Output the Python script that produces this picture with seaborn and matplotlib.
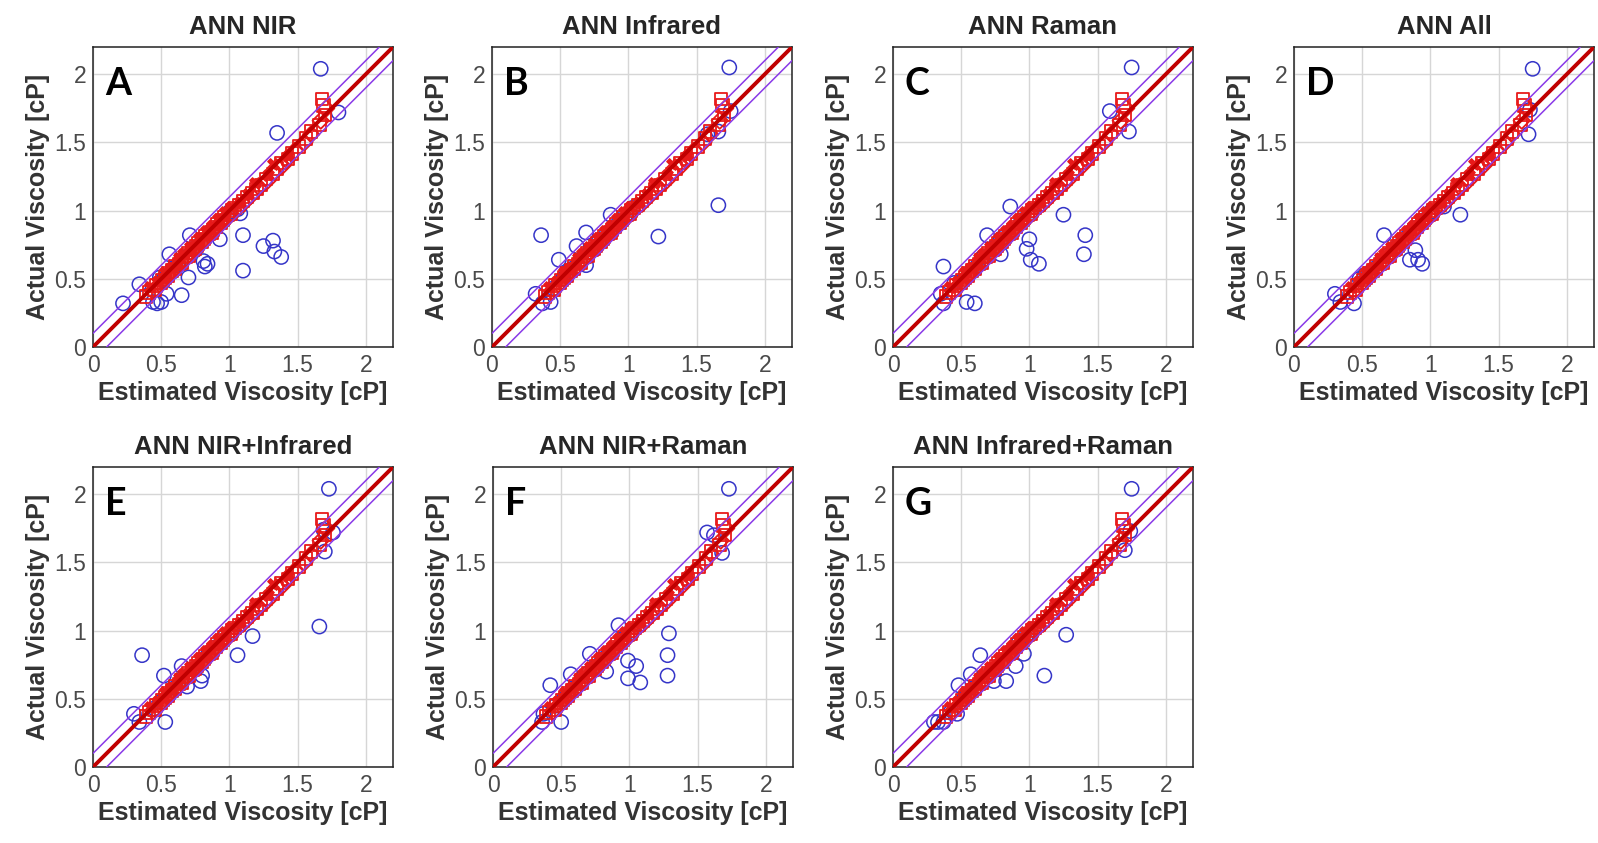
import matplotlib
matplotlib.use("Agg")
import matplotlib.pyplot as plt
import seaborn as sns
import pandas as pd

sns.set_style("white")
plt.rcParams["font.family"] = ["Liberation Sans", "DejaVu Sans"]

# ---- panel titles and letters ----
titles = ["ANN NIR", "ANN Infrared", "ANN Raman", "ANN All",
          "ANN NIR+Infrared", "ANN NIR+Raman", "ANN Infrared+Raman"]
letters = ["A", "B", "C", "D", "E", "F", "G"]

# ---- calibration set (red squares): shared across models ----
train_act = [0.37, 0.40, 0.42, 0.45, 0.47, 0.49, 0.51, 0.52, 0.54, 0.56, 0.57, 0.59, 0.61, 0.62,
             0.64, 0.66, 0.67, 0.69, 0.71, 0.72, 0.74, 0.76, 0.77, 0.79, 0.81, 0.83, 0.84, 0.86,
             0.88, 0.90, 0.91, 0.93, 0.95, 0.97, 0.98, 1.00, 1.02, 1.04, 1.07, 1.10, 1.13, 1.16,
             1.19, 1.23, 1.27, 1.31, 1.35, 1.38, 1.42, 1.47, 1.53, 1.58, 1.63, 1.70, 1.77, 1.82]
train_est = [0.39, 0.41, 0.45, 0.46, 0.50, 0.51, 0.53, 0.55, 0.55, 0.58, 0.60, 0.60, 0.63, 0.65,
             0.65, 0.68, 0.70, 0.70, 0.73, 0.75, 0.76, 0.77, 0.80, 0.81, 0.82, 0.85, 0.87, 0.88,
             0.90, 0.91, 0.94, 0.95, 0.96, 0.99, 1.01, 1.02, 1.04, 1.07, 1.10, 1.13, 1.17, 1.20,
             1.23, 1.27, 1.32, 1.35, 1.38, 1.43, 1.46, 1.51, 1.56, 1.60, 1.66, 1.70, 1.69, 1.68]

# ---- validation set (red diamonds): shared across models ----
val_act = [0.41, 0.46, 0.53, 0.58, 0.63, 0.68, 0.73, 0.78, 0.82, 0.87, 0.92, 0.96, 1.01,
           1.05, 1.11, 1.17, 1.22, 1.28, 1.33, 1.37, 1.44, 1.50, 1.56, 1.66, 1.75]
val_est = [0.44, 0.49, 0.55, 0.61, 0.66, 0.71, 0.75, 0.81, 0.85, 0.90, 0.95, 1.00, 1.05,
           1.10, 1.16, 1.22, 1.28, 1.33, 1.39, 1.42, 1.48, 1.55, 1.60, 1.67, 1.71]

# ---- replicate spectra (red crosses): shared across models ----
rep_act = [0.44, 0.48, 0.50, 0.55, 0.58, 0.60, 0.65, 0.68, 0.70, 0.73, 0.75, 0.80, 0.82,
           0.85, 0.89, 0.92, 0.94, 0.99, 1.03, 1.06, 1.12, 1.20, 1.26, 1.34, 1.40]
rep_est = [0.42, 0.47, 0.52, 0.53, 0.57, 0.62, 0.63, 0.66, 0.72, 0.71, 0.77, 0.78, 0.84,
           0.83, 0.87, 0.94, 0.92, 0.97, 1.01, 1.08, 1.14, 1.19, 1.28, 1.32, 1.43]

# ---- prediction set (blue circles): one pair of lists per model ----
test_est_A = [1.67, 1.80, 1.35, 0.22, 0.34, 0.44, 0.47, 0.50, 0.65, 0.54, 0.70, 0.81, 0.84, 0.82,
              0.93, 1.10, 1.10, 1.25, 1.32, 1.33, 1.38, 1.08, 1.06, 0.56, 0.71, 0.49,
              0.52, 0.58, 0.62, 0.68, 0.75, 0.80, 0.88, 0.95, 1.00]
test_act_A = [2.04, 1.72, 1.57, 0.32, 0.46, 0.33, 0.32, 0.33, 0.38, 0.39, 0.51, 0.63, 0.61, 0.59,
              0.79, 0.82, 0.56, 0.74, 0.78, 0.70, 0.66, 0.98, 1.01, 0.68, 0.82, 0.51,
              0.50, 0.55, 0.60, 0.66, 0.71, 0.78, 0.86, 0.92, 0.99]

test_est_B = [1.74, 1.75, 1.66, 1.66, 0.36, 1.22, 0.87, 0.49, 0.32, 0.43, 0.37, 0.69, 0.69, 0.62,
              0.45, 0.52, 0.56, 0.60, 0.65, 0.72, 0.78, 0.84, 0.92, 0.98, 1.03, 1.58]
test_act_B = [2.05, 1.73, 1.58, 1.04, 0.82, 0.81, 0.97, 0.64, 0.39, 0.33, 0.32, 0.60, 0.84, 0.74,
              0.43, 0.50, 0.55, 0.58, 0.64, 0.70, 0.77, 0.83, 0.90, 0.97, 1.02, 1.56]

test_est_C = [1.75, 1.59, 1.73, 0.37, 0.35, 0.37, 0.54, 0.60, 0.86, 0.69, 0.79, 1.00, 0.98, 1.01,
              1.07, 1.25, 1.41, 1.40, 0.45, 0.50, 0.56, 0.62, 0.66, 0.74, 0.80, 0.88, 0.94, 1.02]
test_act_C = [2.05, 1.73, 1.58, 0.59, 0.39, 0.32, 0.33, 0.32, 1.03, 0.82, 0.68, 0.79, 0.72, 0.64,
              0.61, 0.97, 0.82, 0.68, 0.47, 0.48, 0.54, 0.60, 0.66, 0.72, 0.80, 0.86, 0.93, 1.00]

test_est_D = [1.75, 1.73, 1.72, 1.22, 0.66, 0.85, 0.91, 0.94, 0.89, 0.30, 0.34, 0.44, 1.10,
              0.48, 0.52, 0.56, 0.60, 0.64, 0.70, 0.76, 0.82, 0.88, 0.95, 1.00]
test_act_D = [2.04, 1.74, 1.56, 0.97, 0.82, 0.64, 0.64, 0.61, 0.71, 0.39, 0.33, 0.32, 1.03,
              0.50, 0.53, 0.55, 0.58, 0.62, 0.68, 0.74, 0.80, 0.87, 0.93, 0.99]

test_est_E = [1.73, 1.76, 1.70, 1.66, 0.36, 1.06, 1.17, 0.52, 0.65, 0.69, 0.79, 0.80, 0.30, 0.34,
              0.53, 0.45, 0.50, 0.56, 0.60, 0.68, 0.74, 0.84, 0.90, 0.96, 1.02, 1.69]
test_act_E = [2.04, 1.72, 1.58, 1.03, 0.82, 0.82, 0.96, 0.67, 0.74, 0.59, 0.63, 0.67, 0.39, 0.33,
              0.33, 0.43, 0.48, 0.53, 0.58, 0.66, 0.72, 0.82, 0.88, 0.95, 1.00, 1.74]

test_est_F = [1.73, 1.57, 1.68, 0.92, 1.29, 1.28, 1.28, 0.99, 1.05, 0.99, 1.08, 0.83, 0.71, 0.42,
              0.37, 0.36, 0.50, 0.57, 0.46, 0.52, 0.60, 0.64, 0.70, 0.76, 0.82, 0.88, 0.96, 1.02,
              1.62]
test_act_F = [2.04, 1.72, 1.57, 1.04, 0.98, 0.82, 0.67, 0.78, 0.74, 0.65, 0.62, 0.70, 0.83, 0.60,
              0.39, 0.33, 0.33, 0.68, 0.45, 0.50, 0.57, 0.62, 0.69, 0.74, 0.80, 0.86, 0.94, 1.00,
              1.70]

test_est_G = [1.75, 1.74, 1.70, 1.27, 1.11, 0.64, 0.96, 0.90, 0.74, 0.83, 0.48, 0.57, 0.30, 0.37,
              0.47, 0.33, 0.42, 0.52, 0.60, 0.66, 0.72, 0.80, 0.86, 0.92, 0.98, 1.03]
test_act_G = [2.04, 1.73, 1.59, 0.97, 0.67, 0.82, 0.83, 0.74, 0.63, 0.63, 0.60, 0.68, 0.33, 0.33,
              0.39, 0.33, 0.40, 0.50, 0.58, 0.64, 0.70, 0.77, 0.84, 0.91, 0.97, 1.01]

test_sets = [(test_est_A, test_act_A), (test_est_B, test_act_B), (test_est_C, test_act_C),
             (test_est_D, test_act_D), (test_est_E, test_act_E), (test_est_F, test_act_F),
             (test_est_G, test_act_G)]

ticks = [0, 0.5, 1, 1.5, 2]
tick_labels = ["0", "0.5", "1", "1.5", "2"]
lim = 2.2
band = 0.1

BLUE = "#3535c8"
RED = "#e81a1a"
DARK_RED = "#c00000"
BAND = "#8a3ae8"

fig = plt.figure(figsize=(15.98, 8.43), dpi=100)

W, H = 300 / 1598, 300 / 843
lefts = [93, 492, 893, 1294, 93, 493, 893]
bottoms = [496, 496, 496, 496, 76, 76, 76]

train_df = pd.DataFrame({"est": train_est, "act": train_act})
val_df = pd.DataFrame({"est": val_est, "act": val_act})
rep_df = pd.DataFrame({"est": rep_est, "act": rep_act})

for i in range(7):
    ax = fig.add_axes([lefts[i] / 1598, bottoms[i] / 843, W, H])
    est, act = test_sets[i]
    test_df = pd.DataFrame({"est": est, "act": act})

    sns.scatterplot(data=test_df, x="est", y="act", ax=ax, marker="o", s=105,
                    facecolor="none", edgecolor=BLUE, linewidth=1.1, zorder=3)
    sns.scatterplot(data=train_df, x="est", y="act", ax=ax, marker="s", s=80,
                    facecolor="none", edgecolor=RED, linewidth=1.3, zorder=4)
    sns.scatterplot(data=val_df, x="est", y="act", ax=ax, marker="D", s=70,
                    facecolor="none", edgecolor=RED, linewidth=1.3, zorder=4)
    sns.scatterplot(data=rep_df, x="est", y="act", ax=ax, marker="X", s=70,
                    color=RED, edgecolor=RED, linewidth=0.8, zorder=4)

    # identity line and +/- band
    ax.axline((0, 0), slope=1, color=DARK_RED, lw=2.8, zorder=5)
    ax.axline((0, band), slope=1, color=BAND, lw=1.1, zorder=5)
    ax.axline((0, -band), slope=1, color=BAND, lw=1.1, zorder=5)

    ax.set_xlim(0, lim)
    ax.set_ylim(0, lim)
    ax.set_xticks(ticks)
    ax.set_yticks(ticks)
    ax.set_xticklabels(tick_labels)
    ax.set_yticklabels(tick_labels)
    ax.grid(True, color="#d6d6d6", lw=1.0)
    ax.set_axisbelow(True)
    ax.tick_params(direction="in", length=4, width=0.8, colors="#303030",
                   labelcolor="#4a4a4a", labelsize=16.5, pad=5)
    for sp in ax.spines.values():
        sp.set_color("#222222")
        sp.set_linewidth(1.1)

    ax.set_title(titles[i], fontsize=18.5, fontweight="bold", pad=9)
    ax.set_xlabel("Estimated Viscosity [cP]", fontsize=18, fontweight="bold",
                  color="#333333", labelpad=3)
    ax.set_ylabel("Actual Viscosity [cP]", fontsize=18, fontweight="bold",
                  color="#333333", labelpad=3)
    ax.text(0.04, 0.84, letters[i], transform=ax.transAxes, fontsize=27,
            fontweight="bold", family=["Lato", "DejaVu Sans"], color="black",
            zorder=6)
    leg = ax.get_legend()
    if leg is not None:
        leg.remove()

fig.savefig("out.png", dpi=100)
